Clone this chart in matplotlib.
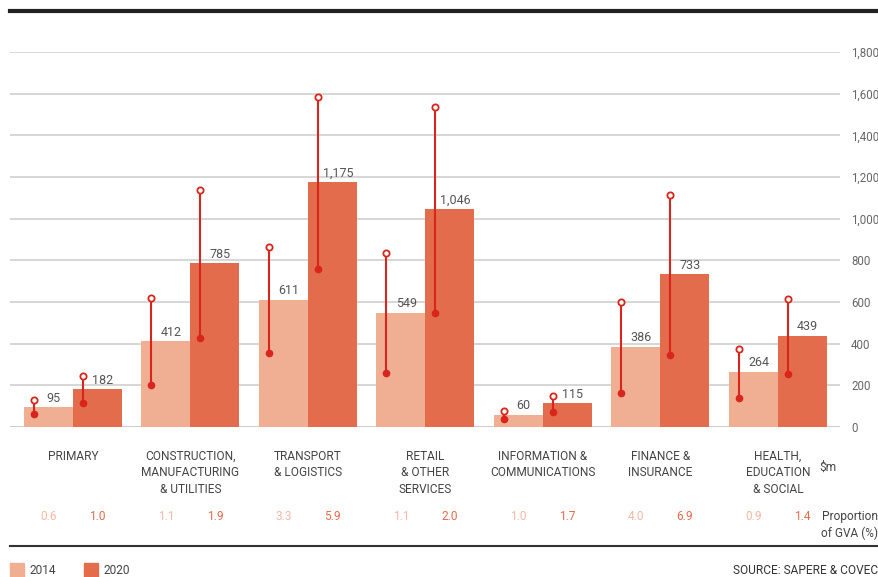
import matplotlib.pyplot as plt
import matplotlib.transforms as mtransforms
from matplotlib.patches import Rectangle
import numpy as np

plt.rcParams['font.family'] = ['Roboto', 'DejaVu Sans']

categories = ['PRIMARY', 'CONSTRUCTION,\nMANUFACTURING\n& UTILITIES', 'TRANSPORT\n& LOGISTICS',
              'RETAIL\n& OTHER\nSERVICES', 'INFORMATION &\nCOMMUNICATIONS', 'FINANCE &\nINSURANCE',
              'HEALTH,\nEDUCATION\n& SOCIAL']
vals_2014 = [95, 412, 611, 549, 60, 386, 264]
vals_2020 = [182, 785, 1175, 1046, 115, 733, 439]
low_2014 = [62, 202, 355, 259, 38, 163, 139]
high_2014 = [130, 619, 864, 835, 77, 600, 374]
low_2020 = [115, 427, 758, 547, 72, 346, 254]
high_2020 = [245, 1138, 1584, 1536, 149, 1114, 614]
gva_2014 = ['0.6', '1.1', '3.3', '1.1', '1.0', '4.0', '0.9']
gva_2020 = ['1.0', '1.9', '5.9', '2.0', '1.7', '6.9', '1.4']
yticks = [0, 200, 400, 600, 800, 1000, 1200, 1400, 1600, 1800]

c14 = '#F0AE93'
c20 = '#E36C4C'
cerr = '#D8261C'
txt = '#555555'
fs = 8.6

W, H = 879, 577
fig = plt.figure(figsize=(W / 100, H / 100), dpi=100)
ax = fig.add_axes([10 / W, (H - 427) / H, 830 / W, 375 / H])

x = np.arange(len(categories))
w = 0.417
ax.bar(x - w / 2, vals_2014, width=w, color=c14, zorder=2)
ax.bar(x + w / 2, vals_2020, width=w, color=c20, zorder=2)

# range lines (low filled, high open)
off = 0.085
for xs, lo, hi in [(x - w + off, low_2014, high_2014), (x + off, low_2020, high_2020)]:
    ax.vlines(xs, lo, hi, color=cerr, lw=1.5, zorder=3)
    ax.plot(xs, lo, 'o', color=cerr, ms=4.5, zorder=4)
    ax.plot(xs, hi, 'o', mfc='white', mec=cerr, mew=1.3, ms=4.5, zorder=4)

for xs, vals in [(x - w / 2, vals_2014), (x + w / 2, vals_2020)]:
    for xi, v in zip(xs, vals):
        ax.text(xi + 0.045, v + 12, f'{v:,}', ha='center', va='bottom', fontsize=9, color=txt, zorder=5)

ax.set_xlim(-0.536, 6.528)
ax.set_ylim(0, 1800)
ax.set_yticks(yticks)
ax.yaxis.grid(True, color='#cccccc', lw=1.1, zorder=0)
ax.axhline(0, color='#cfcfcf', lw=2, zorder=1)
ax.tick_params(axis='y', length=0, pad=8, labelsize=8.3, labelcolor='#666666',
               left=False, labelleft=False, right=False, labelright=True)
ax.yaxis.set_major_formatter(plt.FuncFormatter(lambda v, p: f'{int(v):,}'))
ax.set_xticks([])
for s in ax.spines.values():
    s.set_visible(False)

trans = mtransforms.blended_transform_factory(ax.transData, fig.transFigure)
for xi, cat in zip(x, categories):
    ax.text(xi, 1 - 450 / H, cat, transform=trans, ha='center', va='top', fontsize=fs,
            color='#444444', linespacing=1.35)
for xi, a, b in zip(x, gva_2014, gva_2020):
    ax.text(xi - w / 2, 1 - 517 / H, a, transform=trans, ha='center', va='center', fontsize=fs, color='#F5B9A4')
    ax.text(xi + w / 2, 1 - 517 / H, b, transform=trans, ha='center', va='center', fontsize=fs, color=c20)

fig.text(828 / W, 1 - 467 / H, '$m', ha='center', va='center', fontsize=fs, color='#444444')
fig.text(878 / W, 1 - 525 / H, 'Proportion\nof GVA (%)', ha='right', va='center', fontsize=fs,
         color='#444444', linespacing=1.35, multialignment='right')

# top and bottom rules
fig.add_artist(plt.Line2D([10 / W, 878 / W], [1 - 11 / H, 1 - 11 / H], color='#222222', lw=3))
fig.add_artist(plt.Line2D([10 / W, 878 / W], [1 - 546 / H, 1 - 546 / H], color='#333333', lw=1.5))

# legend
fig.add_artist(Rectangle((10 / W, 1 - 577 / H), 14 / W, 14 / H, transform=fig.transFigure, color=c14))
fig.text(30 / W, 1 - 570 / H, '2014', va='center', fontsize=fs, color='#444444')
fig.add_artist(Rectangle((84 / W, 1 - 577 / H), 14 / W, 14 / H, transform=fig.transFigure, color=c20))
fig.text(104 / W, 1 - 570 / H, '2020', va='center', fontsize=fs, color='#444444')
fig.text(878 / W, 1 - 570 / H, 'SOURCE: SAPERE & COVEC', ha='right', va='center', fontsize=fs, color='#333333')

fig.savefig('out.png', dpi=100)
